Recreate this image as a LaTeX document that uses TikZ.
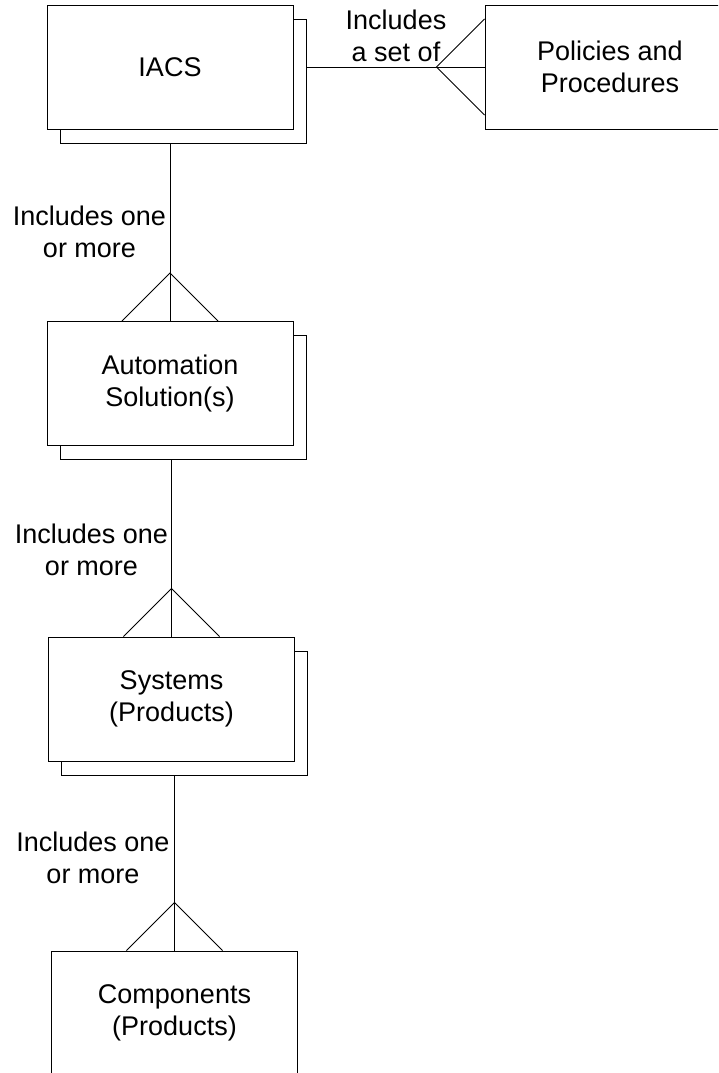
\documentclass[tikz,border=0pt]{standalone}
\usepackage{fontspec}
\setmainfont{Liberation Sans}
\usetikzlibrary{positioning, calc, shadows}

\tikzset{
    entity/.style={draw, fill=white, minimum width=246pt, minimum height=124pt, inner sep=0pt, align=center, font=\fontsize{27}{32.5}\selectfont},
    many/.style={entity, copy shadow={shadow xshift=13pt, shadow yshift=-14pt, draw=black, fill=white}},
    rel/.style={inner sep=0pt, align=center, font=\fontsize{27}{32.5}\selectfont}
}

\begin{document}
\begin{tikzpicture}[x=1pt, y=-1pt, line width=0.9pt]
            \clip (0,0) rectangle (718,1073);
            \node[many] (iacs) at (170,67) {IACS};
            \node[entity, minimum width=250pt] (policies) at (610,67) {Policies and\\Procedures};
            \node[many] (autosol) at (170,383.5) {Automation\\Solution(s)};
            \node[many] (systems) at (171.5,699) {Systems\\(Products)};
            \node[entity] (components) at (174.5,1013) {Components\\(Products)};
            % one-to-many links going down
            \foreach \up/\down in {iacs/autosol, autosol/systems, systems/components}{
                \coordinate (\up-b) at ($(\up.south)+(0,14)$);
                \draw (\down.north) -- (\down.north |- \up-b);
                \draw ($(\down.north)+(-48,0)$) -- ($(\down.north)+(0,-48)$) -- ($(\down.north)+(48,0)$);
            }
            \coordinate (iacs-r) at ($(iacs.east)+(13,0)$);
            \draw (policies.west) -- (policies.west -| iacs-r);
            \draw ($(policies.west)+(0,-48)$) -- ($(policies.west)+(-48,0)$) -- ($(policies.west)+(0,48)$);
            \node[rel] (lbl-set) at (396,36) {Includes\\a set of};
            \node[rel] (lbl-sol) at (89.5,232) {Includes one\\or more};
            \node[rel] (lbl-sys) at (91.5,550) {Includes one\\or more};
            \node[rel] (lbl-comp) at (93,858) {Includes one\\or more};
        \end{tikzpicture}
\end{document}
